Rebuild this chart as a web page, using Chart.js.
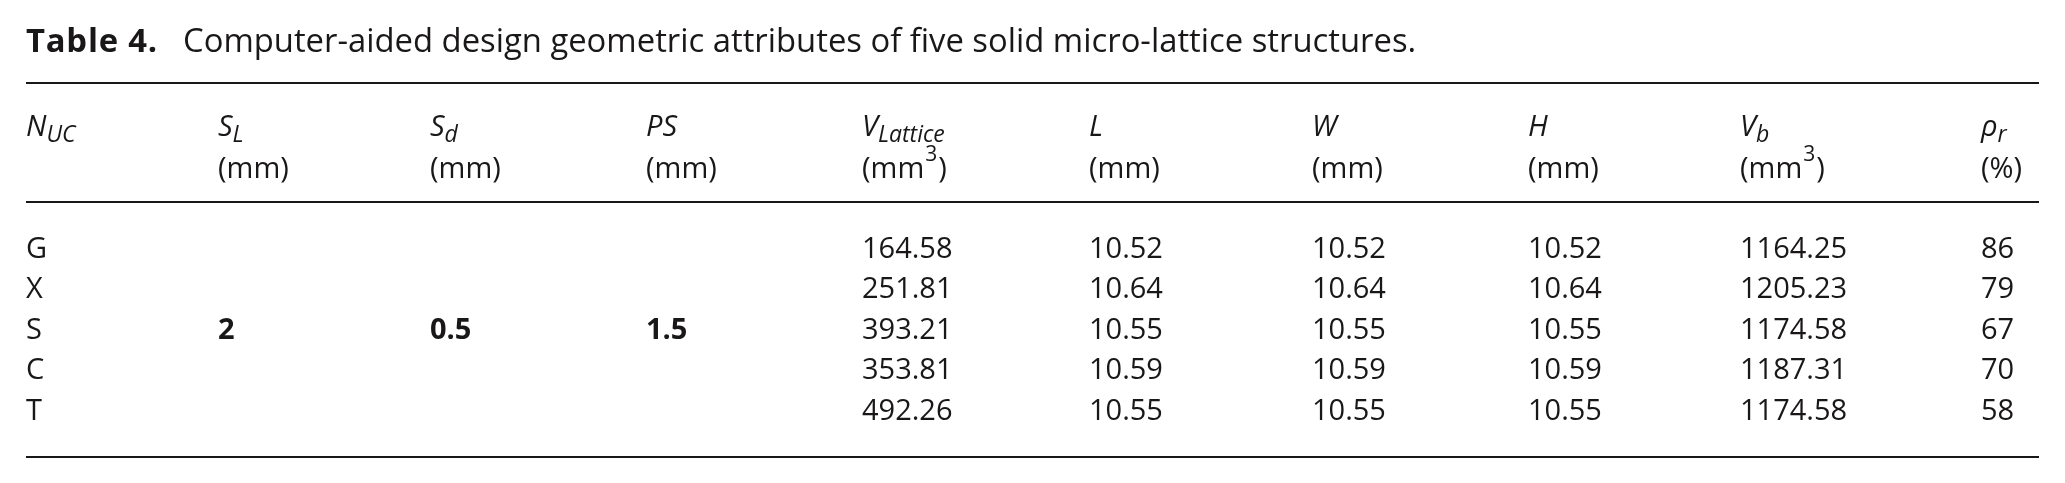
<!DOCTYPE html>
<html>
<head>
<meta charset="utf-8">
<script src="https://cdn.jsdelivr.net/npm/chart.js@4.4.0/dist/chart.umd.min.js"></script>
<style>
  html, body { margin: 0; padding: 0; background: #fff; }
  #wrap { width: 2065px; height: 483px; }
</style>
</head>
<body>
<div id="wrap"><canvas id="tableChart" width="2065" height="483"></canvas></div>
<script>
// Table 4 contents
const titleBold = 'Table 4.';
const titleText = 'Computer-aided design geometric attributes of five solid micro-lattice structures.';

const structures = ['G', 'X', 'S', 'C', 'T'];          // N_UC
const strutLength = 2;                                 // S_L (mm), same for all
const strutDiameter = 0.5;                             // S_d (mm)
const pointSpacing = 1.5;                              // PS (mm)
const latticeVolume = [164.58, 251.81, 393.21, 353.81, 492.26];
const lengthL = [10.52, 10.64, 10.55, 10.59, 10.55];
const widthW = [10.52, 10.64, 10.55, 10.59, 10.55];
const heightH = [10.52, 10.64, 10.55, 10.59, 10.55];
const boxVolume = [1164.25, 1205.23, 1174.58, 1187.31, 1174.58];
const relDensity = [86, 79, 67, 70, 58];

// header: symbol, subscript, unit before sup, sup, unit after sup
const headers = [
    ['N', 'UC', '', '', ''],
    ['S', 'L', '(mm)', '', ''],
    ['S', 'd', '(mm)', '', ''],
    ['PS', '', '(mm)', '', ''],
    ['V', 'Lattice', '(mm', '3', ')'],
    ['L', '', '(mm)', '', ''],
    ['W', '', '(mm)', '', ''],
    ['H', '', '(mm)', '', ''],
    ['V', 'b', '(mm', '3', ')'],
    ['\u03C1', 'r', '(%)', '', '']
];

// layout (table units on the x axis, row units on the y axis)
const colX = [26, 218, 430, 646, 862, 1089, 1312, 1528, 1740, 1981];
const tableRight = 2039;
const titleBoldW = 131;     // width of the bold label
const titleTextX = 183;     // where the caption text starts
const titleTextW = 1235;    // width of the caption text
const rowTitle = -5.09;
const ruleTop = -4.33;
const rowHead1 = -3.01;
const rowHead2 = -1.975;
const ruleMid = -1.37;
const ruleBottom = 4.91;
const FONT = '"Open Sans", Lato, sans-serif';
const SIZE = 29;
const INK = '#1a1718';

// build cells
const cells = [];
structures.forEach((s, r) => {
    cells.push({ x: colX[0], y: r, text: s });
    if (r === 2) {
        cells.push({ x: colX[1], y: r, text: String(strutLength), bold: true });
        cells.push({ x: colX[2], y: r, text: String(strutDiameter), bold: true });
        cells.push({ x: colX[3], y: r, text: String(pointSpacing), bold: true });
    }
    cells.push({ x: colX[4], y: r, text: latticeVolume[r].toFixed(2) });
    cells.push({ x: colX[5], y: r, text: lengthL[r].toFixed(2) });
    cells.push({ x: colX[6], y: r, text: widthW[r].toFixed(2) });
    cells.push({ x: colX[7], y: r, text: heightH[r].toFixed(2) });
    cells.push({ x: colX[8], y: r, text: boxVolume[r].toFixed(2) });
    cells.push({ x: colX[9], y: r, text: String(relDensity[r]) });
});

const tablePlugin = {
    id: 'tablePlugin',
    afterDatasetsDraw(chart) {
        const ctx = chart.ctx;
        const xs = chart.scales.x;
        const ys = chart.scales.y;
        ctx.save();
        ctx.fillStyle = INK;
        ctx.strokeStyle = INK;
        ctx.textAlign = 'left';
        ctx.textBaseline = 'alphabetic';

        // title: size the caption so it spans the same width as the original
        const ty = ys.getPixelForValue(rowTitle);
        ctx.font = SIZE + 'px ' + FONT;
        const tSize = Math.min(33, SIZE * titleTextW / ctx.measureText(titleText).width);
        ctx.font = 'bold ' + tSize.toFixed(1) + 'px ' + FONT;
        const bw = ctx.measureText(titleBold).width;
        ctx.letterSpacing = Math.max(0, (titleBoldW - bw) / (titleBold.length - 1)).toFixed(2) + 'px';
        ctx.fillText(titleBold, xs.getPixelForValue(colX[0]), ty);
        ctx.letterSpacing = '0px';
        ctx.font = tSize.toFixed(1) + 'px ' + FONT;
        ctx.fillText(titleText, xs.getPixelForValue(titleTextX), ty);

        // rules
        ctx.lineWidth = 2;
        [ruleTop, ruleMid, ruleBottom].forEach(v => {
            const py = Math.round(ys.getPixelForValue(v));
            ctx.beginPath();
            ctx.moveTo(xs.getPixelForValue(colX[0]), py);
            ctx.lineTo(xs.getPixelForValue(tableRight), py);
            ctx.stroke();
        });

        // headers
        const y1 = ys.getPixelForValue(rowHead1);
        const y2 = ys.getPixelForValue(rowHead2);
        headers.forEach((h, c) => {
            const x = xs.getPixelForValue(colX[c]);
            ctx.font = 'italic ' + SIZE + 'px ' + FONT;
            ctx.fillText(h[0], x, y1);
            const w = ctx.measureText(h[0]).width;
            if (h[1]) {
                ctx.font = 'italic ' + Math.round(SIZE * 0.8) + 'px ' + FONT;
                ctx.fillText(h[1], x + w, y1 + SIZE * 0.22);
            }
            if (h[2]) {
                ctx.font = SIZE + 'px ' + FONT;
                ctx.fillText(h[2], x, y2);
                let ux = x + ctx.measureText(h[2]).width;
                if (h[3]) {
                    ctx.font = Math.round(SIZE * 0.72) + 'px ' + FONT;
                    ctx.fillText(h[3], ux + 1, y2 - SIZE * 0.6);
                    ux += ctx.measureText(h[3]).width + 2;
                    ctx.font = SIZE + 'px ' + FONT;
                    ctx.fillText(h[4], ux, y2);
                }
            }
        });

        // body cells, positioned by the dataset's own points
        const meta = chart.getDatasetMeta(0);
        const data = chart.data.datasets[0].data;
        meta.data.forEach((pt, i) => {
            ctx.font = (data[i].bold ? 'bold ' : '') + SIZE + 'px ' + FONT;
            ctx.fillText(data[i].text, pt.x, pt.y);
        });
        ctx.restore();
    }
};

new Chart(document.getElementById('tableChart'), {
    type: 'scatter',
    data: {
        datasets: [{
            data: cells,
            pointRadius: 0,
            pointHoverRadius: 0
        }]
    },
    options: {
        responsive: false,
        animation: false,
        devicePixelRatio: 1,
        layout: { padding: 0 },
        events: [],
        plugins: {
            legend: { display: false },
            tooltip: { enabled: false },
            title: { display: false }
        },
        scales: {
            x: { type: 'linear', min: 0, max: 2065, display: false },
            y: { type: 'linear', min: -6.37, max: 5.556, reverse: true, display: false }
        }
    },
    plugins: [tablePlugin]
});
</script>
</body>
</html>
